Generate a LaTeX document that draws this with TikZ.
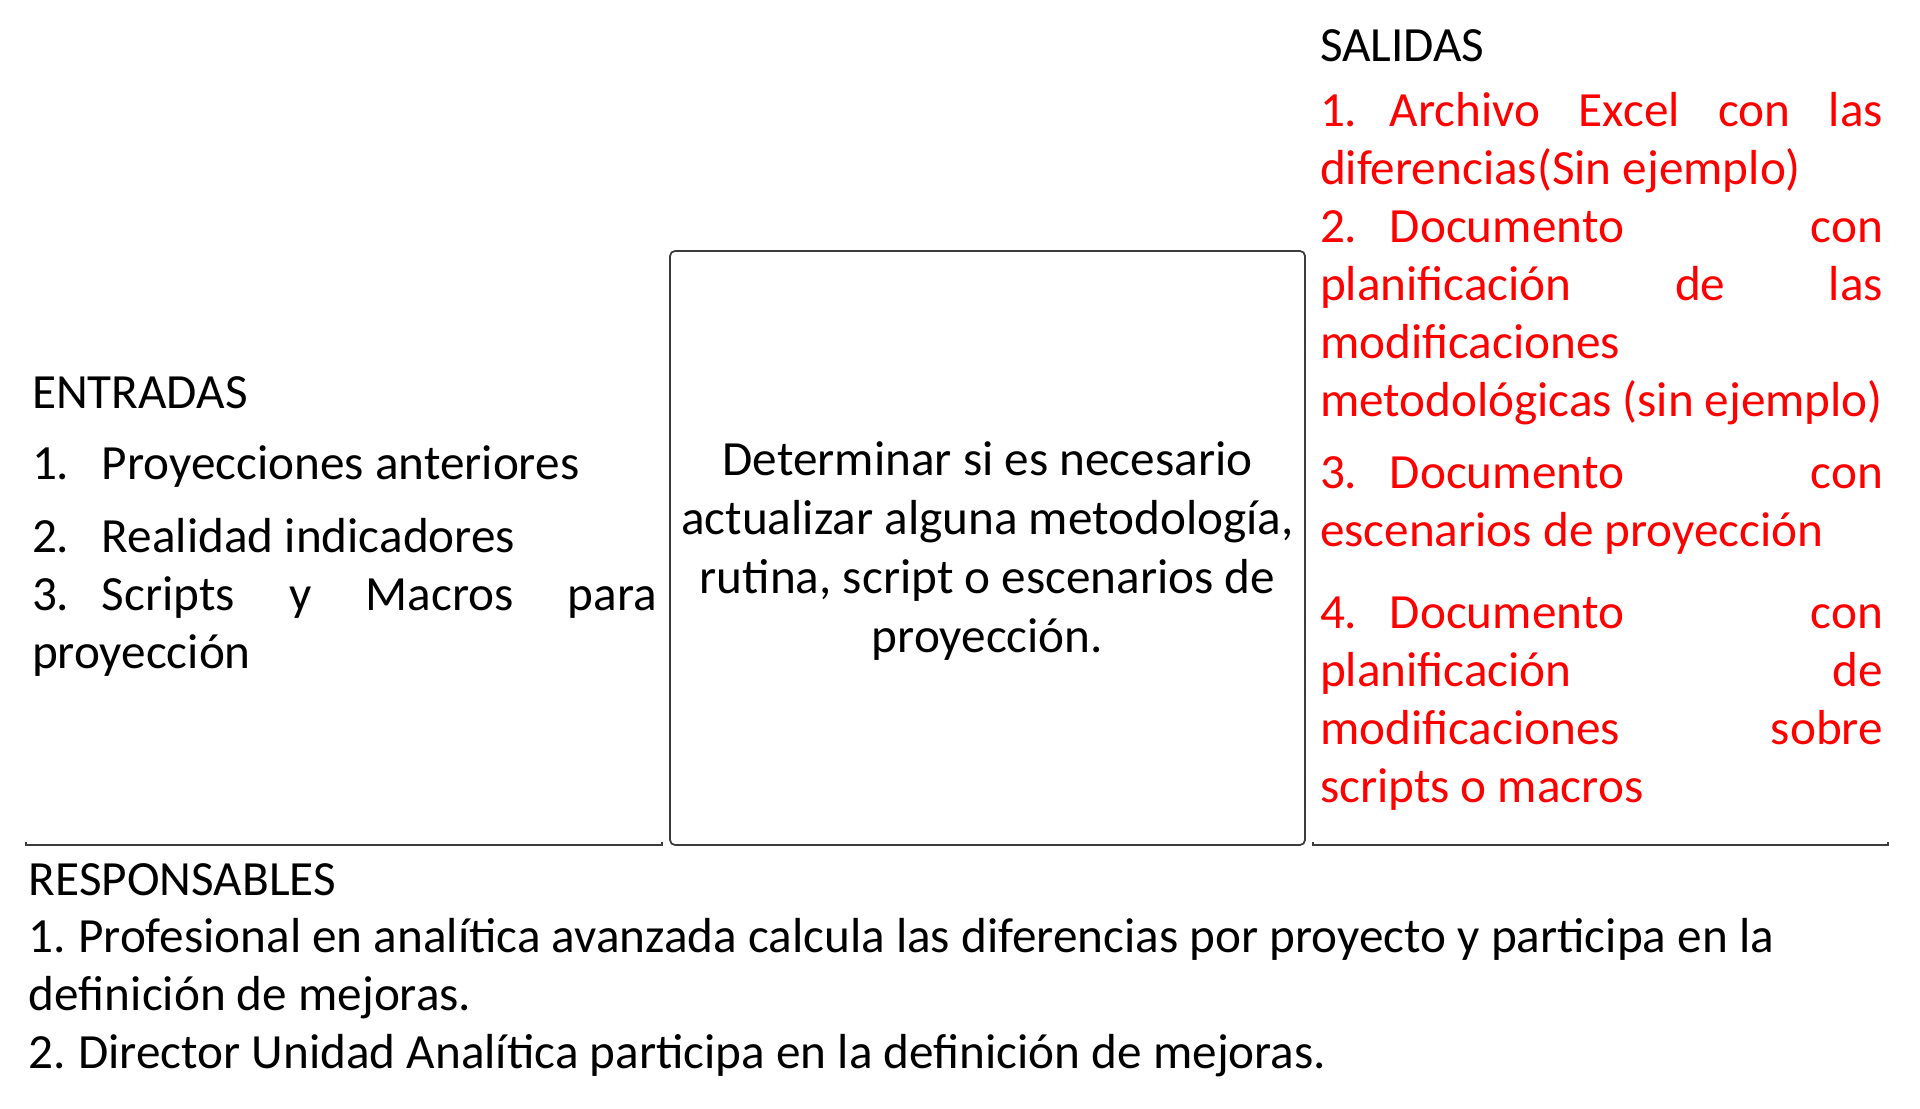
\documentclass[tikz,border=0pt]{standalone}
\usepackage{fontspec}
\setmainfont{Carlito}
\usetikzlibrary{positioning}
\definecolor{rojo}{RGB}{255,0,0}
\definecolor{linea}{RGB}{60,60,60}
\tikzset{
  bloque/.style={inner sep=0pt,outer sep=0pt,anchor=base west,align=justify,
    font=\fontsize{14}{16.5}\selectfont},
  caja/.style={draw=linea,rounded corners=0.5mm,line width=0.5pt,inner sep=0pt,
    align=flush center,font=\fontsize{14}{16.8}\selectfont},
  llave/.style={draw=linea,line width=0.5pt},
}
\newcommand{\numit}[1]{\makebox[0.70cm][l]{#1}}
\hyphenpenalty=10000
\exhyphenpenalty=10000
\hfuzz=20pt

\begin{document}
\begin{tikzpicture}
  \useasboundingbox (0,0) rectangle (19.2,11.08);
  % caja central
  \node[caja,minimum width=6.35cm,minimum height=5.94cm,text width=6.3cm] (proceso) at (9.875,5.60)
    {Determinar si es necesario\\ actualizar alguna metodología,\\ rutina, script o escenarios de\\ proyección.\vspace{-0.06cm}};
  % entradas
  \node[bloque,text width=6.25cm] (entradas) at (0.32,6.99)
    {ENTRADAS\par\vspace{0.13cm}
     \numit{1.}Proyecciones anteriores\par\vspace{0.15cm}
     \numit{2.}Realidad indicadores\par
     \numit{3.}Scripts y Macros para\linebreak proyección};
  % salidas
  \node[bloque,text width=5.63cm] (salidas) at (13.20,10.46)
    {SALIDAS\par\vspace{0.07cm}
     \color{rojo}\numit{1.}Archivo Excel con las\linebreak diferencias(Sin ejemplo)\par
     \numit{2.}Documento con\linebreak planificación de las\linebreak modificaciones\linebreak metodológicas (sin ejemplo)\par\vspace{0.14cm}
     \numit{3.}Documento con\linebreak escenarios de proyección\par\vspace{0.24cm}
     \numit{4.}Documento con\linebreak planificación de\linebreak modificaciones sobre\linebreak scripts o macros};
  % responsables
  \node[bloque,align=flush left,text width=18.6cm] (responsables) at (0.29,2.13)
    {RESPONSABLES\\
     1.\hspace{-0.03cm} Profesional en analítica avanzada calcula las diferencias por proyecto y participa en la\\
     definición de mejoras.\\
     2.\hspace{-0.03cm} Director Unidad Analítica participa en la definición de mejoras.};
  % lineas inferiores
  \draw[llave] (0.26,2.66) -- (0.26,2.63) -- (6.62,2.63) -- (6.62,2.66);
  \draw[llave] (13.13,2.66) -- (13.13,2.63) -- (18.88,2.63) -- (18.88,2.66);
\end{tikzpicture}
\end{document}
